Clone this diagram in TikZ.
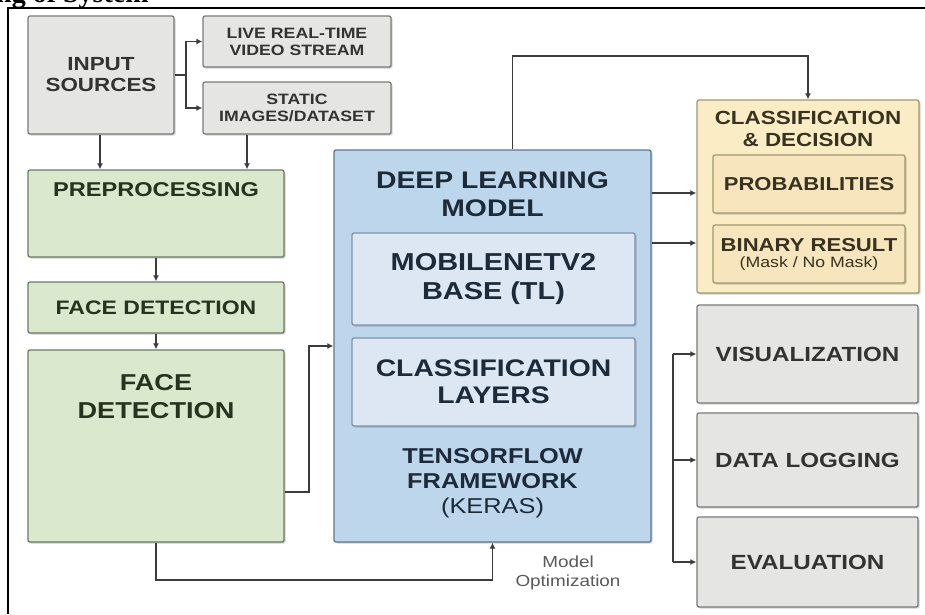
\documentclass[tikz,border=0pt]{standalone}
\usepackage{fontspec}
\setmainfont{Liberation Sans}
\newfontfamily\wide{Liberation Sans}[FakeStretch=1.18]
\newfontfamily\titleserif{Liberation Serif}
\usetikzlibrary{arrows.meta,shadows,calc}
\newcommand{\myfs}[2]{\fontsize{#1}{#2}\selectfont}
\definecolor{grayfill}{HTML}{E5E5E3}
\definecolor{graydraw}{HTML}{7A7A7A}
\definecolor{graytext}{HTML}{333333}
\definecolor{greenfill}{HTML}{DAE8CD}
\definecolor{greendraw}{HTML}{6B7A60}
\definecolor{greentext}{HTML}{26331F}
\definecolor{bluefill}{HTML}{BDD6EC}
\definecolor{bluedraw}{HTML}{5E7890}
\definecolor{innerblue}{HTML}{DCE7F3}
\definecolor{innerbluedraw}{HTML}{7D93A8}
\definecolor{bluetext}{HTML}{1C2A3A}
\definecolor{yelfill}{HTML}{FAEDC6}
\definecolor{yeldraw}{HTML}{A39870}
\definecolor{yelinner}{HTML}{F7E6BD}
\definecolor{yeltext}{HTML}{3A3220}
\definecolor{linec}{HTML}{3C3C3C}
\tikzset{
  myshadow/.style={drop shadow={shadow xshift=1.5pt, shadow yshift=-1.5pt, fill=black, opacity=0.18}},
  box/.style={rounded corners=2pt, line width=1.3pt, inner sep=0pt, align=center, myshadow},
  graybox/.style={box, draw=graydraw, fill=grayfill, text=graytext},
  greenbox/.style={box, draw=greendraw, fill=greenfill, text=greentext},
  bluebox/.style={box, draw=bluedraw, fill=bluefill, text=bluetext},
  innerbluebox/.style={box, draw=innerbluedraw, fill=innerblue, text=bluetext},
  yelbox/.style={box, draw=yeldraw, fill=yelfill, text=yeltext},
  yelinnerbox/.style={box, draw=yeldraw, fill=yelinner, text=yeltext},
  lbl/.style={inner sep=0pt, align=center},
  conn/.style={draw=linec, line width=1.8pt},
  arr/.style={conn, -{Latex[length=6pt,width=6pt]}},
}
\begin{document}
\begin{tikzpicture}[x=1pt,y=-1pt]
\useasboundingbox (0,0) rectangle (925,614);
\clip (0,0) rectangle (925,614);
\fill[white] (0,0) rectangle (925,614);

% title fragment and frame
\node[font=\titleserif\bfseries\myfs{28}{30}, anchor=base west, inner sep=0pt] (ttl) at (-4,2) {ng of System};
\draw[line width=2pt, black] (8,614) -- (8,8) -- (925,8);

% input
\node[graybox, minimum width=146pt, minimum height=118pt, font=\wide\bfseries\myfs{19}{21}] (inp) at (101,75) {INPUT\\SOURCES};
\node[graybox, minimum width=188pt, minimum height=51pt, font=\wide\bfseries\myfs{15}{17}] (live) at (297,41.5) {LIVE REAL-TIME\\VIDEO STREAM};
\node[graybox, minimum width=188pt, minimum height=52pt, font=\wide\bfseries\myfs{15}{17}] (stat) at (297,108) {STATIC\\IMAGES/DATASET};

% green column
\node[greenbox, minimum width=256pt, minimum height=87pt] (pre) at (156,213.5) {};
\node[lbl, text=greentext, font=\wide\bfseries\myfs{20}{22}] (pret) at (156,190) {PREPROCESSING};
\node[greenbox, minimum width=256pt, minimum height=51pt, font=\wide\bfseries\myfs{19.5}{22}] (fd1) at (156,307.5) {FACE DETECTION};
\node[greenbox, minimum width=256pt, minimum height=192pt] (fd2) at (156,446) {};
\node[lbl, text=greentext, font=\wide\bfseries\myfs{23}{28}] (fd2t) at (156,397) {FACE\\DETECTION};

% deep learning model
\node[bluebox, minimum width=317pt, minimum height=392pt] (dl) at (492.5,346) {};
\node[lbl, text=bluetext, font=\wide\bfseries\myfs{24}{28}] (dlt) at (492.5,194) {DEEP LEARNING\\MODEL};
\node[innerbluebox, minimum width=283pt, minimum height=92pt, font=\wide\bfseries\myfs{24.5}{29}] (mob) at (493.5,279) {MOBILENETV2\\BASE (TL)};
\node[innerbluebox, minimum width=283pt, minimum height=88pt, font=\wide\bfseries\myfs{24}{27}] (cls) at (493.5,382) {CLASSIFICATION\\LAYERS};
\node[lbl, text=bluetext, font=\wide\myfs{21.5}{25}] (tf) at (492.5,483) {\bfseries TENSORFLOW\\\bfseries FRAMEWORK\\(KERAS)};

% classification & decision
\node[yelbox, minimum width=222pt, minimum height=193pt] (dec) at (808,196.5) {};
\node[lbl, text=yeltext, font=\wide\bfseries\myfs{19}{22}] (dect) at (808,129) {CLASSIFICATION\\\& DECISION};
\node[yelinnerbox, minimum width=192pt, minimum height=58pt, font=\wide\bfseries\myfs{18.7}{21}] (prob) at (809,184) {PROBABILITIES};
\node[yelinnerbox, minimum width=192pt, minimum height=58pt] (bin) at (809,254) {};
\node[lbl, text=yeltext, font=\wide\bfseries\myfs{18.7}{21}] (bint) at (809,245) {BINARY RESULT};
\node[lbl, text=yeltext, font=\wide\myfs{15}{17}] (binm) at (809,263.5) {(Mask / No Mask)};

% outputs
\node[graybox, minimum width=221pt, minimum height=98pt, font=\wide\bfseries\myfs{20.5}{23}] (vis) at (807.5,354) {VISUALIZATION};
\node[graybox, minimum width=221pt, minimum height=94pt, font=\wide\bfseries\myfs{20.5}{23}] (log) at (807.5,460) {DATA LOGGING};
\node[graybox, minimum width=221pt, minimum height=90pt, font=\wide\bfseries\myfs{20.5}{23}] (eval) at (807.5,562) {EVALUATION};

% model optimization label
\node[lbl, text=black!65, font=\wide\myfs{16}{19}] (mopt) at (568,572.5) {Model\\Optimization};

% connectors
\draw[conn] (inp.east) -- ++(11,0) coordinate (br1);
\draw[arr] (br1) |- (live.west);
\draw[arr] (br1) |- (stat.west);
\draw[arr] ([xshift=-1pt]inp.south) -- ([xshift=-1pt]inp.south |- pre.north);
\draw[arr] ([xshift=-50pt]stat.south) -- ([xshift=-50pt]stat.south |- pre.north);
\draw[arr] (pre.south) -- (fd1.north);
\draw[arr] (fd1.south) -- (fd2.north);
\draw[arr] ([yshift=-46pt]fd2.east) -- ++(24,0) |- (dl.west);
\draw[arr] (fd2.south) -- ++(0,37) -| (dl.south);
\draw[arr] ([xshift=20pt]dl.north) -- ++(0,-93) -| (dec.north);
\draw[arr] ([yshift=153pt]dl.east) -- ([yshift=153pt]dl.east -| dec.west);
\draw[arr] ([yshift=103pt]dl.east) -- ([yshift=103pt]dl.east -| dec.west);
\coordinate (brk) at (673,0);
\draw[conn] (vis.west -| brk) -- (eval.west -| brk);
\draw[arr] (vis.west -| brk) -- (vis.west);
\draw[arr] (log.west -| brk) -- (log.west);
\draw[arr] (eval.west -| brk) -- (eval.west);
\end{tikzpicture}
\end{document}
